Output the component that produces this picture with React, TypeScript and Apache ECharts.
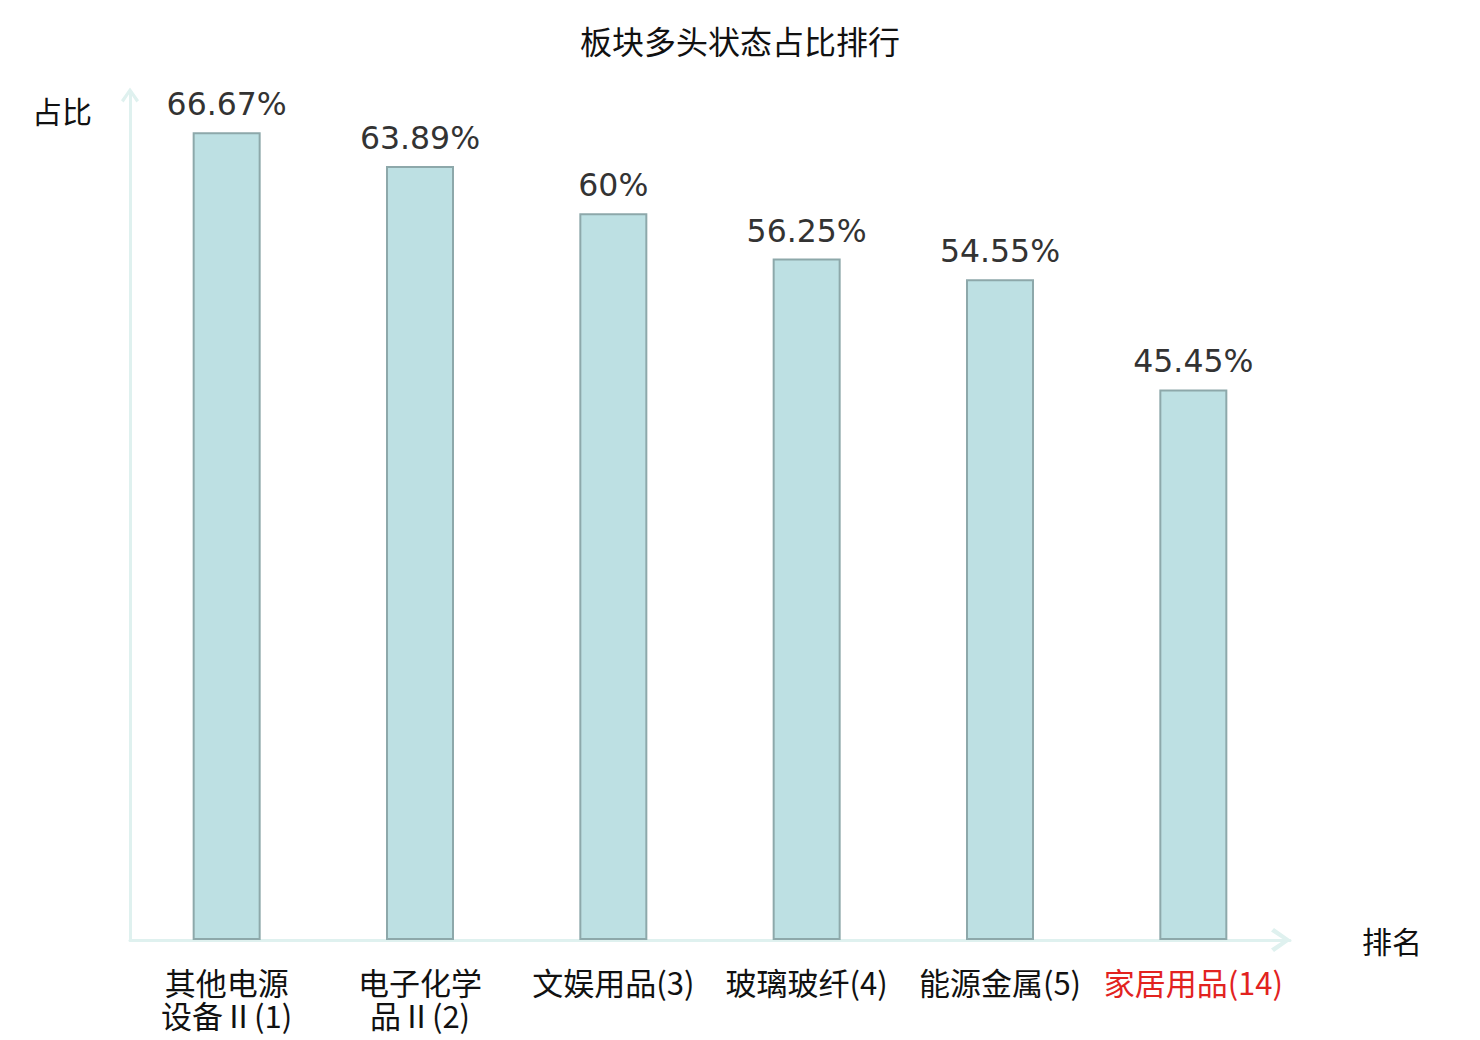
import React, { useEffect, useRef } from "react";
import * as echarts from "echarts";

const TITLE = "板块多头状态占比排行";
const categories = ["其他电源设备Ⅱ", "电子化学品Ⅱ", "文娱用品", "玻璃玻纤", "能源金属", "家居用品"];
const ranks = [1, 2, 3, 4, 5, 14];
const values = [66.67, 63.89, 60, 56.25, 54.55, 45.45];
const highlightIndex = 5;

const CHEVRON = "path://M12,0 L24,17 L20.5,20 L12,7 L3.5,20 L0,17 Z";

export default function App() {
  const ref = useRef<HTMLDivElement>(null);
  useEffect(() => {
    if (!ref.current) return;
    const chart = echarts.init(ref.current, null, { renderer: "svg" });
    const axisColor = "#dff1ef";
    chart.setOption({
      animation: false,
      backgroundColor: "#ffffff",
      title: {
        text: TITLE,
        left: "center",
        top: 19,
        textStyle: { fontFamily: "Noto Sans CJK SC", fontSize: 32, fontWeight: "normal", color: "#111" },
      },
      grid: { left: 130, right: 190, top: 92, bottom: 100, containLabel: false },
      xAxis: {
        type: "category",
        data: categories.map((c, i) => ({
          value: c,
          textStyle: i === highlightIndex ? { color: "#e2231f" } : { color: "#111" },
        })),
        name: "排名",
        nameLocation: "end",
        nameGap: 72,
        nameTextStyle: { fontFamily: "Noto Sans CJK SC", fontSize: 30, color: "#111", verticalAlign: "middle" },
        axisLine: {
          show: true,
          symbol: ["none", CHEVRON],
          symbolSize: [24, 21],
          symbolOffset: [0, -9],
          lineStyle: { color: axisColor, width: 3 },
        },
        axisTick: { show: false },
        axisLabel: {
          interval: 0,
          margin: 25,
          fontFamily: "Noto Sans CJK SC",
          fontSize: 31,
          lineHeight: 33,
          formatter: (name: string) => {
            const i = categories.indexOf(name);
            const full = name + "(" + ranks[i] + ")";
            return name.length > 4 ? name.slice(0, 4) + "\n" + full.slice(4) : full;
          },
        },
      },
      yAxis: {
        type: "value",
        min: 0,
        max: 70,
        name: "占比",
        nameLocation: "end",
        nameGap: -18,
        nameTextStyle: {
          fontFamily: "Noto Sans CJK SC",
          fontSize: 30,
          color: "#111",
          align: "right",
          verticalAlign: "middle",
          padding: [0, 38, 0, 0],
        },
        axisLine: {
          show: true,
          symbol: ["none", CHEVRON],
          symbolSize: [18, 16],
          symbolOffset: [0, -3],
          lineStyle: { color: axisColor, width: 3 },
        },
        axisTick: { show: false },
        axisLabel: { show: false },
        splitLine: { show: false },
      },
      series: [
        {
          type: "bar",
          data: values,
          barWidth: 68,
          itemStyle: { color: "#bde0e3", borderColor: "#8da8aa", borderWidth: 2 },
          label: {
            show: true,
            position: "top",
            distance: 12,
            fontFamily: "DejaVu Sans",
            fontSize: 31.5,
            color: "#333",
            formatter: (p: any) => p.value + "%",
          },
        },
      ],
    });
    return () => chart.dispose();
  }, []);
  return <div ref={ref} style={{ position: "fixed", left: 0, top: 0, width: 1480, height: 1040 }} />;
}
